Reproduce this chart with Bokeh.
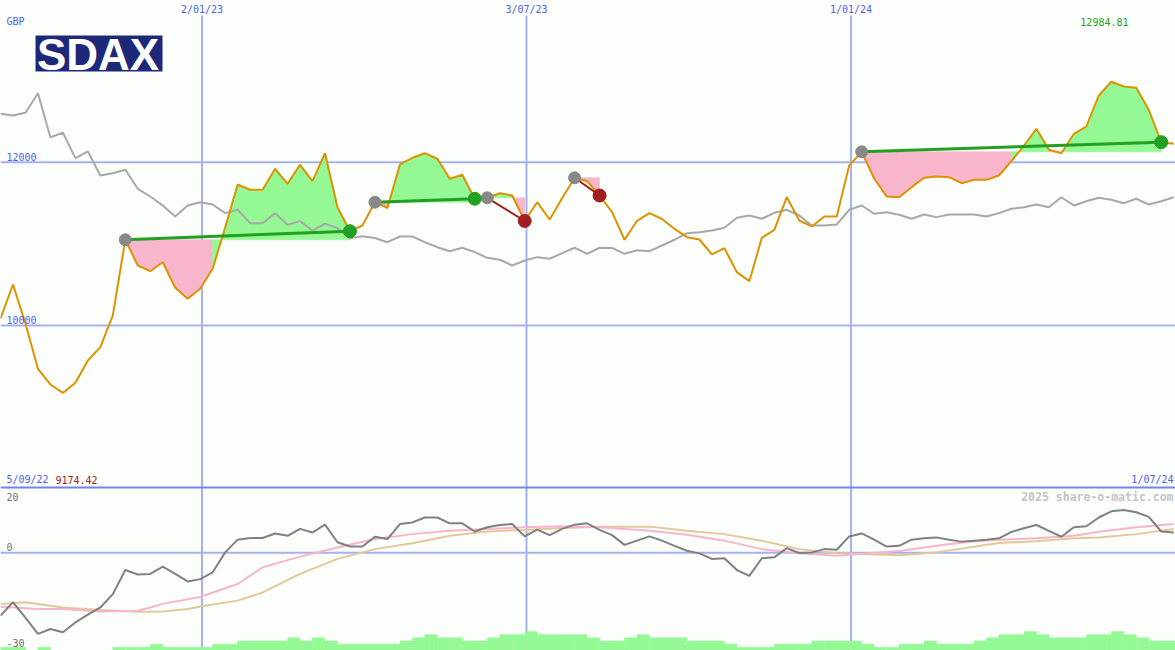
import datetime as dt
from bokeh.plotting import figure
from bokeh.models import Range1d, Label, BoxAnnotation
from bokeh.embed import file_html
from bokeh.resources import INLINE

# ---------------- data ----------------
START = dt.date(2022, 9, 11)          # first weekly point (left edge)
END = dt.date(2024, 7, 1)             # right edge of chart
FIRST_LABEL = dt.date(2022, 9, 5)
tick_dates = [dt.date(2023, 1, 2), dt.date(2023, 7, 3), dt.date(2024, 1, 1)]

price = [10086, 10502, 10025, 9470, 9278, 9174.42, 9299, 9572, 9735, 10123,
         11050, 10735, 10665, 10775, 10462, 10327, 10450, 10695, 11200, 11727,
         11662, 11662, 11919, 11736, 11968, 11767, 12110, 11449, 11155, 11225,
         11510, 11439, 11972, 12054, 12110, 12042, 11797, 11846, 11552, 11564,
         11620, 11592, 11280, 11510, 11298, 11559, 11809, 11767, 11592, 11388,
         11050, 11282, 11376, 11304, 11184, 11082, 11053, 10870, 10947, 10653,
         10543, 11074, 11172, 11571, 11286, 11213, 11335, 11335, 11960, 12127,
         11800, 11580, 11571, 11694, 11809, 11825, 11816, 11743, 11784, 11784,
         11837, 12012, 12204, 12409, 12152, 12110, 12348, 12437, 12817, 12984.81,
         12927, 12911, 12642, 12245, 12225]

compare = [12593, 12572, 12605, 12845, 12306, 12360, 12049, 12131, 11837, 11865,
           11907, 11674, 11580, 11470, 11335, 11470, 11510, 11482, 11376, 11417,
           11253, 11253, 11376, 11233, 11278, 11164, 11246, 11192, 11069, 11094,
           11072, 11020, 11090, 11090, 11020, 10959, 10910, 10952, 10898, 10829,
           10805, 10735, 10796, 10837, 10817, 10886, 10952, 10878, 10952, 10950,
           10878, 10922, 10910, 10980, 11050, 11131, 11143, 11164, 11197, 11319,
           11347, 11307, 11380, 11417, 11347, 11225, 11225, 11237, 11417, 11470,
           11368, 11388, 11356, 11307, 11360, 11327, 11360, 11360, 11360, 11335,
           11376, 11429, 11449, 11482, 11449, 11571, 11470, 11522, 11564, 11540,
           11498, 11552, 11482, 11522, 11571]

osc = [-19.3, -15.2, -19.9, -24.9, -23.4, -24.4, -21.4, -19.0, -16.8, -12.7,
       -5.3, -6.7, -6.5, -4.3, -6.5, -8.8, -8.1, -6.0, 0.1, 4.0,
       4.5, 4.5, 5.9, 5.2, 7.3, 6.2, 8.6, 3.2, 1.9, 1.9,
       4.9, 4.2, 8.8, 9.3, 10.8, 10.8, 9.0, 9.0, 6.5, 7.8,
       8.5, 8.8, 5.0, 7.1, 5.4, 7.3, 8.6, 9.0, 7.0, 5.4,
       2.4, 3.7, 5.0, 3.7, 2.1, 0.6, -0.2, -1.9, -1.7, -5.3,
       -7.1, -1.7, -1.4, 1.4, -0.1, 0.1, 1.1, 0.9, 5.0, 5.9,
       4.0, 1.9, 2.1, 4.0, 4.4, 4.7, 4.0, 3.4, 3.7, 4.0,
       4.4, 6.4, 7.5, 8.5, 6.7, 4.9, 7.8, 8.1, 10.8, 12.7,
       13.1, 12.4, 11.0, 6.5, 6.2]

pink_k = [0, 3, 5, 8, 11, 12, 13, 16, 17, 19, 21, 24, 27, 30, 33, 36, 39, 42, 45,
          48, 52, 55, 58, 61, 64, 67, 72, 75, 78, 80, 83, 86, 88, 91, 94]
pink_v = [-16.6, -17.3, -17.3, -18.0, -17.8, -16.8, -15.7, -13.6, -12.2, -9.6, -4.5,
          -1.2, 1.6, 4.2, 5.7, 6.7, 7.3, 7.8, 8.1, 7.8, 6.7, 5.5, 3.7, 1.1, -0.2,
          -0.9, 0.5, 2.1, 3.5, 4.0, 4.4, 5.2, 6.4, 7.8, 8.8]

tan_k = [0, 2, 5, 8, 11, 13, 15, 16, 19, 21, 24, 27, 30, 33, 36, 39, 42, 45, 48,
         52, 55, 58, 61, 64, 67, 72, 75, 78, 80, 83, 86, 88, 91, 94]
tan_v = [-15.7, -15.2, -16.8, -17.6, -18.1, -18.0, -17.3, -16.5, -14.7, -12.2, -6.5,
         -1.9, 1.1, 2.9, 5.2, 6.5, 7.0, 7.6, 8.0, 8.0, 6.7, 5.7, 3.7, 1.1, -0.2,
         -0.8, 0.1, 1.8, 3.0, 3.5, 4.4, 4.7, 5.7, 7.3]

volume = [1, 1, 0, 1, 0, 0, 0, 0, 0, 1,
          1, 1, 2, 1, 1, 1, 1, 2, 2, 3,
          3, 3, 3, 4, 3, 4, 3, 2, 2, 2,
          2, 2, 3, 4, 5, 4, 4, 3, 3, 4,
          5, 5, 6, 5, 5, 5, 5, 4, 3, 3,
          4, 5, 4, 4, 4, 3, 3, 3, 2, 1,
          1, 1, 2, 2, 2, 3, 3, 3, 3, 2,
          1, 1, 2, 2, 3, 2, 2, 2, 3, 4,
          5, 5, 6, 5, 4, 4, 4, 5, 5, 6,
          5, 4, 3, 3, 3]

trade_entry = [10, 30, 39, 46, 69]
trade_exit = [28, 38, 42, 48, 93]

price_grid = [10000, 12000]

# ---------------- styling ----------------
W, H = 1175, 650
BG = "#fcfefc"
BLUE_TXT = "#5060ee"
GRID = "#a4b2f0"
SEP = "#7484ec"
ORANGE = "#dd9200"
GRAY = "#a8a8a8"
OSC = "#808080"
PINK = "#f8b4c8"
TAN = "#e2c89a"
GREEN_FILL = "#94f894"
PINK_FILL = "#f8b6cc"
GREEN = "#22a022"
RED = "#a21e1e"
MONO = "DejaVu Sans Mono"

P_LO, P_HI = 6020, 13980
O_LO, O_HI = -30, 169.4
O_TOP = 20
V_HI = 206


def wk(d):
    return (d - START).days / 7


def fmt(d):
    return f"{d.day}/{d.month:02d}/{d.year % 100:02d}"


n = len(price)
k = list(range(n))

p = figure(width=W, height=H, x_range=Range1d(0, wk(END)), y_range=Range1d(P_LO, P_HI),
           output_backend="svg", toolbar_location=None, x_axis_location=None,
           y_axis_location=None, min_border=0, background_fill_color=BG,
           border_fill_color=BG, outline_line_color=None)
p.grid.visible = False
p.extra_y_ranges = {"osc": Range1d(O_LO, O_HI), "vol": Range1d(0, V_HI)}

ppx = (P_HI - P_LO) / H
tick_x = [wk(d) for d in tick_dates]

# vertical date lines
p.segment(x0=tick_x, x1=tick_x, y0=[P_LO] * 3, y1=[P_HI - 15 * ppx] * 3,
          line_color=GRID, line_width=2)
# price gridlines
for g in price_grid:
    p.line([0, wk(END)], [g, g], line_color=GRID, line_width=2)
# osc zero line and separator
p.line([0, wk(END)], [0, 0], line_color=GRID, line_width=2, y_range_name="osc")
p.line([0, wk(END)], [O_TOP, O_TOP], line_color=SEP, line_width=2, y_range_name="osc")

# trade fills: one polygon per run of same-colour intervals
xs, ys, cols = [], [], []
for e, x in zip(trade_entry, trade_exit):
    lvl = price[e]
    runs = []
    for i in range(e, x):
        c = GREEN_FILL if price[i + 1] > lvl else PINK_FILL
        if runs and runs[-1][0] == c:
            runs[-1][2] = i + 1
        else:
            runs.append([c, i, i + 1])
    for c, a, b in runs:
        idx = list(range(a, b + 1))
        xs.append([a] + idx + [b])
        ys.append([lvl] + [price[j] for j in idx] + [lvl])
        cols.append(c)
p.patches(xs, ys, fill_color=cols, line_color=cols, line_width=0.6)

# comparison and price
p.line(k, compare, line_color=GRAY, line_width=2)
p.line(k, price, line_color=ORANGE, line_width=2)

# trade lines & dots
for e, x in zip(trade_entry, trade_exit):
    c = GREEN if price[x] > price[e] else RED
    p.line([e, x], [price[e], price[x]], line_color=c, line_width=3 if c == GREEN else 2)
p.scatter(trade_entry, [price[e] for e in trade_entry], size=12, color="#888888")
p.scatter(trade_exit, [price[x] for x in trade_exit], size=13,
          color=[GREEN if price[x] > price[e] else RED for e, x in zip(trade_entry, trade_exit)])

# volume
p.quad(left=k, right=[i + 1 for i in k], bottom=0, top=volume, fill_color=GREEN_FILL,
       line_color=GREEN_FILL, line_width=0.6, y_range_name="vol")

# oscillator
p.line(tan_k, tan_v, line_color=TAN, line_width=2, y_range_name="osc")
p.line(pink_k, pink_v, line_color=PINK, line_width=2, y_range_name="osc")
p.line(k, osc, line_color=OSC, line_width=2, y_range_name="osc")


def lab(x, y, text, color, size="10px", align="left", xu="screen", style="normal", font=MONO):
    p.add_layout(Label(x=x, y=H - y, text=text, x_units=xu, y_units="screen",
                       text_color=color, text_font_size=size, text_align=align,
                       text_baseline="middle", text_font=font, text_font_style=style))


for tx, d in zip(tick_x, tick_dates):
    lab(tx, 8.5, fmt(d), BLUE_TXT, align="center", xu="data")
lab(6, 21, "GBP", BLUE_TXT)
lab(1128, 21, f"{max(price):.2f}", GREEN, align="right")
for g in price_grid:
    lab(6, 156 if g == 12000 else 319, str(g), BLUE_TXT)
lab(6, 479, fmt(FIRST_LABEL), BLUE_TXT)
lab(55, 479, f"{min(price):.2f}", RED)
lab(1173, 479, fmt(END), BLUE_TXT, align="right")
lab(1173, 496.5, "2025 share-o-matic.com", "#c4c4c4", size="11.5px", align="right", style="bold")
lab(6, 496, str(O_TOP), "#707070")
lab(6, 546.5, "0", "#707070")
lab(6, 642.5, str(O_LO), "#707070")

# logo
p.add_layout(BoxAnnotation(left=35, right=162, top=H - 35, bottom=H - 71,
                           left_units="screen", right_units="screen",
                           top_units="screen", bottom_units="screen",
                           fill_color="#1e2878", fill_alpha=1, line_color=None))
lab(97.5, 53.5, "SDAX", "white", size="44px", align="center", style="bold",
    font="Liberation Sans")

html = file_html(p, INLINE, title="SDAX")
html = html.replace("<head>", "<head><style>html,body{margin:0;padding:0;}</style>", 1)
open("out.html", "w").write(html)
